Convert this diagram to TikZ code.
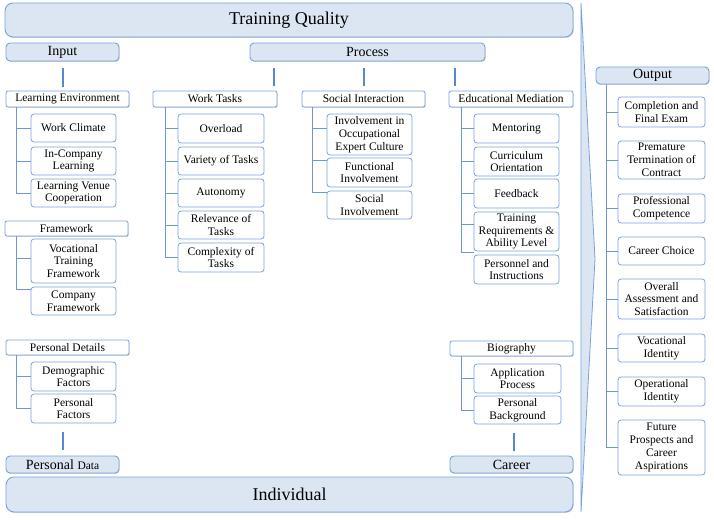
\documentclass[tikz,border=0pt]{standalone}
\usepackage{fontspec}
\setmainfont{Liberation Serif}
\usetikzlibrary{shadows}
\definecolor{lb}{HTML}{DCE6F2}
\definecolor{bc}{RGB}{120,162,220}
\definecolor{cc}{RGB}{110,150,212}
\definecolor{tc}{RGB}{85,135,210}
\newcommand\bx[7]{\node[#6, minimum width={(#4-#2)*1pt}, minimum height={(#5-#3)*1pt}] (#1) at ({(#2+#4)/2},{(#3+#5)/2}) {#7};}
\tikzset{
 shd/.style={drop shadow={shadow xshift=0.7pt,shadow yshift=-0.9pt,opacity=0.3,fill=black!60}},
 big/.style={draw=bc, fill=lb, line width=0.9pt, rounded corners=8pt, inner sep=0pt, shd, font=\fontsize{18}{20}\selectfont},
 mid/.style={draw=bc, fill=lb, line width=0.9pt, rounded corners=4pt, inner sep=0pt, shd, font=\fontsize{14}{16}\selectfont},
 hdr/.style={draw=bc, fill=white, line width=0.8pt, rounded corners=2pt, inner sep=0pt, shd, font=\fontsize{11.5}{13}\selectfont},
 leaf/.style={draw=bc, fill=white, line width=0.8pt, rounded corners=3pt, inner sep=0pt, align=center, font=\fontsize{11.5}{12.8}\selectfont},
 conn/.style={draw=cc, line width=0.8pt},
 tick/.style={draw=tc, line width=2pt},
}
\begin{document}
\begin{tikzpicture}[x=1pt,y=-1pt]
\useasboundingbox (0,0) rectangle (714,519);
% chevron
\filldraw[fill=lb, draw=bc, line width=0.8pt] (581,3) -- (595,259) -- (581,512) -- cycle;
% main bars
\bx{tq}{5}{3}{573}{37}{big}{Training Quality}
\bx{ind}{6}{477}{573}{512}{big}{Individual}
\bx{in}{6}{43}{119}{61}{mid}{Input}
\bx{pr}{250}{43}{485}{61}{mid}{Process}
\bx{out}{596}{67}{709}{84}{mid}{Output}
\bx{pdata}{6}{456}{119}{473}{mid}{Personal {\fontsize{11.5}{13}\selectfont Data}}
\bx{car}{450}{456}{573}{473}{mid}{Career}
% headers
\bx{le}{6}{91}{129}{107}{hdr}{Learning Environment}
\bx{wt}{153}{91}{277}{107}{hdr}{Work Tasks}
\bx{si}{302}{91}{425}{107}{hdr}{Social Interaction}
\bx{em}{449}{91}{573}{107}{hdr}{Educational Mediation}
\bx{fw}{5}{221}{128}{236}{hdr}{Framework}
\bx{pd}{6}{340}{129}{355}{hdr}{Personal Details}
\bx{bio}{450}{341}{573}{356}{hdr}{Biography}
% leaves
\bx{wc}{31}{114}{116}{142}{leaf}{Work Climate}
\bx{icl}{31}{147}{116}{175}{leaf}{In-Company\\Learning}
\bx{lvc}{31}{179}{116}{207}{leaf}{Learning Venue\\Cooperation}
\bx{vtf}{31}{239}{116}{283}{leaf}{Vocational\\Training\\Framework}
\bx{cf}{31}{287}{116}{315}{leaf}{Company\\Framework}
\bx{ov}{178}{114}{264}{143}{leaf}{Overload}
\bx{vt}{178}{147}{264}{175}{leaf}{Variety of Tasks}
\bx{au}{178}{179}{264}{207}{leaf}{Autonomy}
\bx{rt}{178}{211}{264}{239}{leaf}{Relevance of\\Tasks}
\bx{ct}{178}{243}{264}{272}{leaf}{Complexity of\\Tasks}
\bx{ie}{327}{114}{412}{155}{leaf}{Involvement in\\Occupational\\Expert Culture}
\bx{fi}{327}{158}{412}{187}{leaf}{Functional\\Involvement}
\bx{sinv}{327}{191}{412}{219}{leaf}{Social\\Involvement}
\bx{me}{474}{114}{559}{143}{leaf}{Mentoring}
\bx{co}{474}{147}{559}{176}{leaf}{Curriculum\\Orientation}
\bx{fb}{474}{179}{559}{208}{leaf}{Feedback}
\bx{tr}{474}{212}{559}{251}{leaf}{Training\\Requirements \&\\Ability Level}
\bx{pi}{474}{255}{559}{284}{leaf}{Personnel and\\Instructions}
\bx{o1}{618}{97}{705}{127}{leaf}{Completion and\\Final Exam}
\bx{o2}{618}{141}{705}{179}{leaf}{Premature\\Termination of\\Contract}
\bx{o3}{618}{194}{705}{223}{leaf}{Professional\\Competence}
\bx{o4}{618}{237}{705}{265}{leaf}{Career Choice}
\bx{o5}{618}{279}{705}{319}{leaf}{Overall\\Assessment and\\Satisfaction}
\bx{o6}{618}{334}{705}{362}{leaf}{Vocational\\Identity}
\bx{o7}{618}{377}{705}{406}{leaf}{Operational\\Identity}
\bx{o8}{618}{420}{705}{475}{leaf}{Future\\Prospects and\\Career\\Aspirations}
\bx{df}{31}{362}{116}{391}{leaf}{Demographic\\Factors}
\bx{pf}{31}{394}{116}{423}{leaf}{Personal\\Factors}
\bx{ap}{474}{364}{561}{393}{leaf}{Application\\Process}
\bx{pb}{474}{396}{561}{424}{leaf}{Personal\\Background}
% thick ticks
\draw[tick, shorten <=7pt, shorten >=4pt] (in.south) -- (in.south |- le.north);
\draw[tick] ([xshift=24pt,yshift=-7pt]pr.south west) -- ++(0,18);
\draw[tick] ([xshift=114pt,yshift=-7pt]pr.south west) -- ++(0,18);
\draw[tick] ([xshift=205pt,yshift=-7pt]pr.south west) -- ++(0,18);
\draw[tick, shorten <=6pt, shorten >=9pt] (pdata.north) -- (pdata.north |- pf.south);
\draw[tick] ([xshift=2.5pt,yshift=5pt]car.north) -- ++(0,-18);
% branches
\foreach \c in {wc,icl,lvc} \draw[conn] ([xshift=11pt]le.south west) |- (\c.west);
\draw[conn] ([xshift=12pt]fw.south west) |- ([yshift=3pt]vtf.west);
\draw[conn] ([xshift=12pt]fw.south west) |- ([yshift=12pt]cf.west);
\foreach \c in {ov,vt,au,rt,ct} \draw[conn] ([xshift=13pt]wt.south west) |- (\c.west);
\draw[conn] ([xshift=11pt]si.south west) |- ([yshift=6.5pt]ie.west);
\draw[conn] ([xshift=11pt]si.south west) |- ([yshift=12.5pt]fi.west);
\draw[conn] ([xshift=11pt]si.south west) |- ([yshift=13pt]sinv.west);
\foreach \c in {me,co,fb} \draw[conn] ([xshift=13pt]em.south west) |- (\c.west);
\draw[conn] ([xshift=13pt]em.south west) |- ([yshift=7.5pt]tr.west);
\draw[conn] ([xshift=13pt]em.south west) |- ([yshift=17.5pt]pi.west);
\foreach \c in {o1,o2,o3,o4,o5,o6,o7,o8} \draw[conn] ([xshift=11pt]out.south west) |- (\c.west);
\foreach \c in {df,pf} \draw[conn] ([xshift=11pt]pd.south west) |- (\c.west);
\foreach \c in {ap,pb} \draw[conn] ([xshift=12pt]bio.south west) |- (\c.west);
\end{tikzpicture}
\end{document}
